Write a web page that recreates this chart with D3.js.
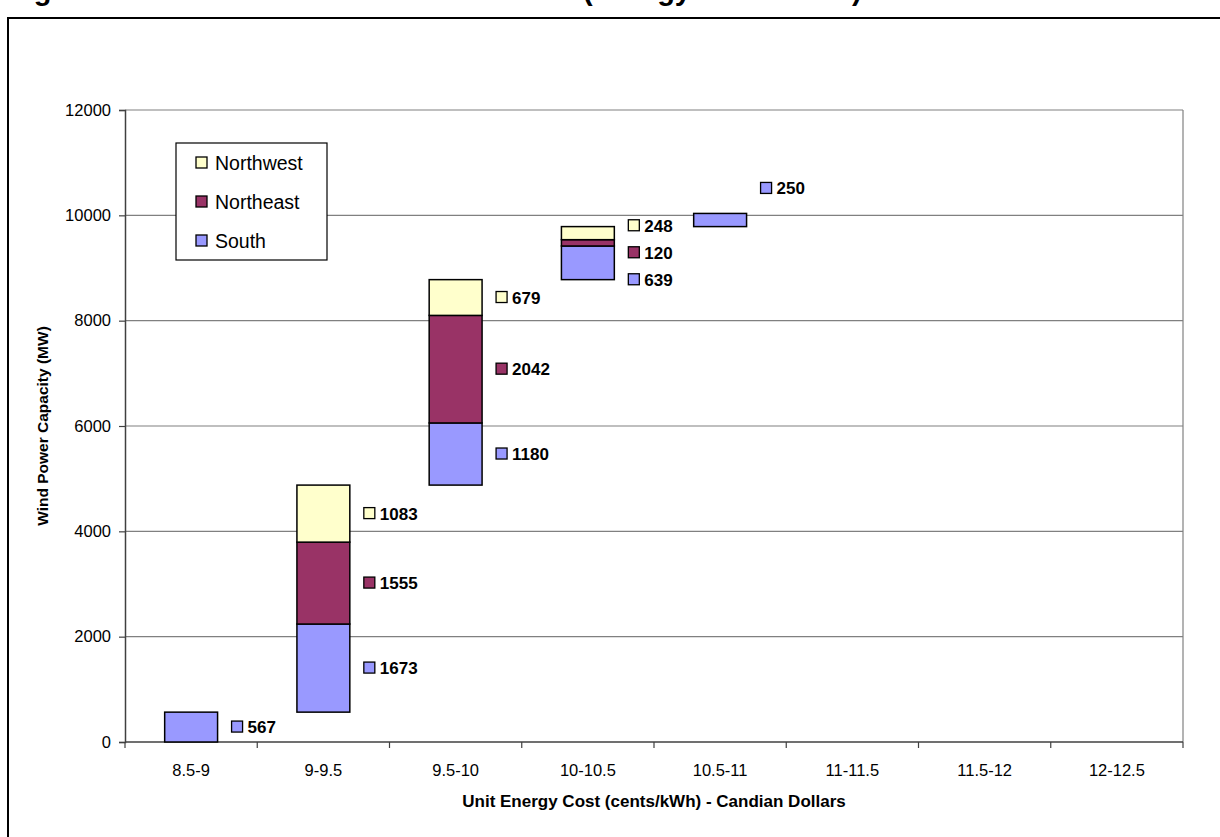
<!DOCTYPE html>
<html>
<head>
<meta charset="utf-8">
<script src="https://cdn.jsdelivr.net/npm/d3@7/dist/d3.min.js"></script>
<style>
  html, body { margin: 0; padding: 0; background: #fff; }
  svg { display: block; font-family: Arial, "Liberation Sans", sans-serif; }
</style>
</head>
<body>
<svg id="chart" width="1220" height="837"></svg>
<script>
// Cost bands (cents/kWh) and capacity added in each band, by region (MW)
const categories = ["8.5-9", "9-9.5", "9.5-10", "10-10.5", "10.5-11", "11-11.5", "11.5-12", "12-12.5"];
const south     = [567, 1673, 1180, 639, 250, 0, 0, 0];
const northeast = [0, 1555, 2042, 120, 0, 0, 0, 0];
const northwest = [0, 1083, 679, 248, 0, 0, 0, 0];
const yTicks = [0, 2000, 4000, 6000, 8000, 10000, 12000];

const seriesDefs = [
  { key: "South",     values: south,     color: "#9999FF" },
  { key: "Northeast", values: northeast, color: "#993366" },
  { key: "Northwest", values: northwest, color: "#FFFFCC" }
];
const legendOrder = ["Northwest", "Northeast", "South"];

// Cumulative capacity: each band starts where the previous one ended
const rows = categories.map((c, i) => {
  const r = { category: c };
  seriesDefs.forEach(s => r[s.key] = s.values[i]);
  return r;
});
const totals = rows.map(r => seriesDefs.reduce((a, s) => a + r[s.key], 0));
const bases = totals.map((t, i) => d3.sum(totals.slice(0, i)));

const stacked = d3.stack().keys(seriesDefs.map(s => s.key))(rows);
stacked.forEach(layer => layer.forEach((d, i) => { d[0] += bases[i]; d[1] += bases[i]; }));

const svg = d3.select("#chart");
const FONT = "Arial, 'Liberation Sans', sans-serif";

// Page frame and figure caption (runs off the top of the page)
svg.append("text")
  .attr("x", 8).attr("y", 0)
  .attr("font-size", 29).attr("font-weight", "bold").attr("fill", "#000")
  .text("Figure 6 - Wind Resources vs. Unit Costs (Energy Production)");
svg.append("rect")
  .attr("x", 8).attr("y", 18).attr("width", 1300).attr("height", 900)
  .attr("fill", "none").attr("stroke", "#000").attr("stroke-width", 2);

const plot = { left: 125, right: 1183, top: 110, bottom: 742 };

const x = d3.scaleBand()
  .domain(categories)
  .range([plot.left, plot.right])
  .paddingInner(0.6)
  .paddingOuter(0.3);

const y = d3.scaleLinear().domain([0, 12000]).range([plot.bottom, plot.top]);

// Gridlines
svg.append("g")
  .selectAll("line")
  .data(yTicks.filter(t => t > 0))
  .join("line")
  .attr("x1", plot.left).attr("x2", plot.right)
  .attr("y1", d => y(d)).attr("y2", d => y(d))
  .attr("stroke", "#808080").attr("stroke-width", 1.2);

// Plot area right border
svg.append("line")
  .attr("x1", plot.right).attr("x2", plot.right)
  .attr("y1", plot.top).attr("y2", plot.bottom)
  .attr("stroke", "#808080").attr("stroke-width", 1.2);

// Y axis
const yAxis = svg.append("g")
  .attr("transform", `translate(${plot.left},0)`)
  .call(d3.axisLeft(y).tickValues(yTicks).tickSize(6).tickPadding(8).tickFormat(d3.format("d")));
yAxis.select(".domain").attr("stroke", "#404040").attr("stroke-width", 1.5);
yAxis.selectAll(".tick line").attr("stroke", "#404040").attr("stroke-width", 1.2);
yAxis.selectAll("text").attr("font-family", FONT).attr("font-size", 16.5).attr("fill", "#000");

// X axis: ticks sit on band boundaries
const xAxisG = svg.append("g").attr("transform", `translate(0,${plot.bottom})`);
xAxisG.append("line")
  .attr("x1", plot.left).attr("x2", plot.right)
  .attr("stroke", "#404040").attr("stroke-width", 1.5);
const step = x.step();
const boundaries = d3.range(categories.length + 1).map(i => plot.left + i * step);
xAxisG.selectAll("line.tk")
  .data(boundaries)
  .join("line").attr("class", "tk")
  .attr("x1", d => d).attr("x2", d => d)
  .attr("y1", 0).attr("y2", 6)
  .attr("stroke", "#404040").attr("stroke-width", 1.2);
xAxisG.selectAll("text")
  .data(categories)
  .join("text")
  .attr("x", d => x(d) + x.bandwidth() / 2)
  .attr("y", 34)
  .attr("text-anchor", "middle")
  .attr("font-size", 16.5).attr("fill", "#000")
  .text(d => d);

// Axis titles
svg.append("text")
  .attr("x", (plot.left + plot.right) / 2).attr("y", 807)
  .attr("text-anchor", "middle")
  .attr("font-size", 17).attr("font-weight", "bold")
  .text("Unit Energy Cost (cents/kWh) - Candian Dollars");
svg.append("text")
  .attr("transform", `translate(48,${(plot.top + plot.bottom) / 2}) rotate(-90)`)
  .attr("text-anchor", "middle")
  .attr("font-size", 15.5).attr("font-weight", "bold")
  .text("Wind Power Capacity (MW)");

// Floating stacked bars
const colorOf = Object.fromEntries(seriesDefs.map(s => [s.key, s.color]));
svg.append("g")
  .selectAll("g")
  .data(stacked)
  .join("g")
  .attr("fill", d => colorOf[d.key])
  .selectAll("rect")
  .data(d => d.filter(p => p[1] - p[0] > 0))
  .join("rect")
  .attr("x", d => x(d.data.category))
  .attr("width", x.bandwidth())
  .attr("y", d => y(d[1]))
  .attr("height", d => y(d[0]) - y(d[1]))
  .attr("stroke", "#000").attr("stroke-width", 1.5);

// Value labels with legend keys, placed to the right of each column
const labelGap = 27;
categories.forEach((c, i) => {
  const items = [];
  stacked.forEach(layer => {
    const p = layer[i];
    const v = p[1] - p[0];
    if (v > 0) items.push({ key: layer.key, value: v, cy: (y(p[0]) + y(p[1])) / 2, h: y(p[0]) - y(p[1]) });
  });
  if (!items.length) return;
  if (items.length === 1 && items[0].h < 18) {
    // a thin lone segment gets its label lifted above the column
    items[0].cy = y(stacked[stacked.length - 1][i][1]) - 25;
  }
  // spread overlapping labels apart
  items.sort((a, b) => a.cy - b.cy);
  for (let it = 0; it < 50; it++) {
    for (let k = 1; k < items.length; k++) {
      const d = items[k].cy - items[k - 1].cy;
      if (d < labelGap) {
        const push = (labelGap - d) / 2;
        items[k - 1].cy -= push * 0.6;
        items[k].cy += push * 1.4;
      }
    }
  }
  const kx = x(c) + x.bandwidth() + 14;
  const g = svg.append("g");
  items.forEach(it => {
    g.append("rect")
      .attr("x", kx).attr("y", it.cy - 6)
      .attr("width", 11).attr("height", 11)
      .attr("fill", colorOf[it.key]).attr("stroke", "#000").attr("stroke-width", 1.3);
    g.append("text")
      .attr("x", kx + 16).attr("y", it.cy + 6)
      .attr("font-size", 17).attr("font-weight", "bold").attr("fill", "#000")
      .text(it.value);
  });
});

// Legend
const lg = svg.append("g").attr("transform", "translate(176,143)");
lg.append("rect").attr("width", 151).attr("height", 117)
  .attr("fill", "#fff").attr("stroke", "#000").attr("stroke-width", 1.2);
legendOrder.forEach((k, i) => {
  const cy = 20 + i * 39;
  lg.append("rect").attr("x", 20).attr("y", cy - 6).attr("width", 11).attr("height", 11)
    .attr("fill", colorOf[k]).attr("stroke", "#000").attr("stroke-width", 1.3);
  lg.append("text").attr("x", 39).attr("y", cy + 7)
    .attr("font-size", 19.5).attr("fill", "#000").text(k);
});
</script>
</body>
</html>
